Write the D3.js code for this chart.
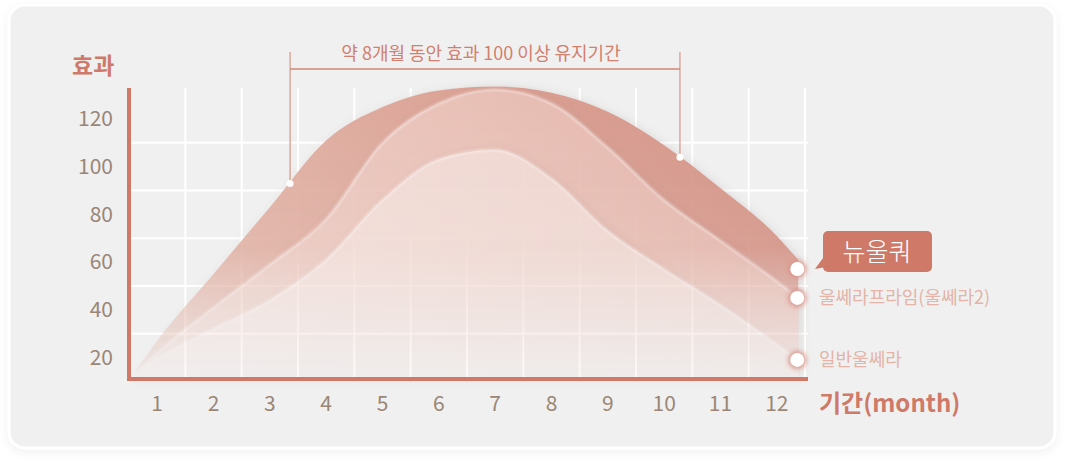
<!DOCTYPE html>
<meta charset="utf-8">
<style>
body { margin: 0; background: #fff; }
svg { display: block; font-family: "Noto Sans CJK KR", "Noto Sans", sans-serif; }
.tick-label { fill: #9a8676; font-size: 21px; }
.title { fill: #cf7a68; font-weight: 700; }
</style>
<svg width="1065" height="469"></svg>
<script src="https://cdn.jsdelivr.net/npm/d3@7"></script>
<script>

// months where the curves were read, values for each product
var months = [0.55, 1, 2, 3, 4, 5, 6, 7, 8, 9, 10, 11, 12, 12.38];
var newUlthera = [12, 27, 55, 83, 111, 125, 132, 133.6, 131, 123, 109, 91, 71, 61];
var ultheraPrime = [12, 22, 41, 59, 78, 110, 126.5, 132.4, 126.5, 108, 86, 69, 52, 45];
var ultheraBasic = [12, 19.5, 32, 44, 61, 86, 103, 107, 95, 73, 57, 42, 25.5, 19];

var xTicks = [1, 2, 3, 4, 5, 6, 7, 8, 9, 10, 11, 12];
var yTicks = [20, 40, 60, 80, 100, 120];
var gridY = [30, 50, 70, 90, 110];
var seriesNames = ["뉴울쿼", "울쎄라프라임(울쎄라2)", "일반울쎄라"];
// points on the top curve where effect crosses ~100
var bracketMonths = [3.36, 10.28];
var bracketValues = [93, 104];

var svg = d3.select("svg");
var defs = svg.append("defs");

var x = d3.scaleLinear().domain([0.5, 12.5]).range([129, 805]);
var y = d3.scaleLinear().domain([11, 133]).range([379, 88]);

// card
var shadow = defs.append("filter").attr("id", "cardShadow")
  .attr("x", "-5%").attr("y", "-5%").attr("width", "110%").attr("height", "115%");
shadow.append("feDropShadow").attr("dx", 0).attr("dy", 3).attr("stdDeviation", 4)
  .attr("flood-color", "#000").attr("flood-opacity", 0.06);

svg.append("rect")
  .attr("x", 9).attr("y", 5).attr("width", 1046).attr("height", 443).attr("rx", 16)
  .attr("fill", "#f0f0f0").attr("stroke", "#fff").attr("stroke-width", 3)
  .attr("filter", "url(#cardShadow)");

// grid
var grid = svg.append("g").attr("stroke", "#fff").attr("stroke-width", 2);
grid.selectAll(".gx").data(xTicks).enter().append("line")
  .attr("x1", function(d) { return x(d + 0.5); })
  .attr("x2", function(d) { return x(d + 0.5); })
  .attr("y1", y(133)).attr("y2", y(11));
grid.selectAll(".gy").data(gridY).enter().append("line")
  .attr("x1", x(0.5)).attr("x2", 808)
  .attr("y1", function(d) { return y(d); })
  .attr("y2", function(d) { return y(d); });

// gradients & masks
var fade = defs.append("linearGradient").attr("id", "fade")
  .attr("gradientUnits", "userSpaceOnUse")
  .attr("x1", 0).attr("x2", 0).attr("y1", y(133)).attr("y2", y(11));
fade.append("stop").attr("offset", 0).attr("stop-color", "#fff");
fade.append("stop").attr("offset", 0.55).attr("stop-color", "#ddd");
fade.append("stop").attr("offset", 1).attr("stop-color", "#222");
defs.append("mask").attr("id", "fadeMask")
  .attr("maskUnits", "userSpaceOnUse")
  .attr("x", 0).attr("y", 0).attr("width", 1065).attr("height", 469)
  .append("rect").attr("width", 1065).attr("height", 469).attr("fill", "url(#fade)");

var colors = [
  ["#e3b6a9", "#d38f82"],
  ["#edcdc4", "#e3b2a7"],
  ["#f4dfd9", "#edd1ca"]
];
colors.forEach(function(c, i) {
  var g = defs.append("linearGradient").attr("id", "fill" + i)
    .attr("gradientUnits", "userSpaceOnUse")
    .attr("x1", x(0.5)).attr("x2", x(12.5)).attr("y1", 0).attr("y2", 0);
  g.append("stop").attr("offset", 0).attr("stop-color", c[0]);
  g.append("stop").attr("offset", 1).attr("stop-color", c[1]);
});

var areaShadow = defs.append("filter").attr("id", "areaShadow")
  .attr("x", "-10%").attr("y", "-10%").attr("width", "120%").attr("height", "120%");
areaShadow.append("feDropShadow").attr("dx", 3).attr("dy", 2).attr("stdDeviation", 4)
  .attr("flood-color", "#6b5a55").attr("flood-opacity", 0.18);

var soft = defs.append("filter").attr("id", "soft");
soft.append("feGaussianBlur").attr("stdDeviation", 1.2);

var glow = defs.append("filter").attr("id", "glow")
  .attr("x", "-100%").attr("y", "-100%").attr("width", "300%").attr("height", "300%");
glow.append("feGaussianBlur").attr("stdDeviation", 2.5);

var area = d3.area()
  .x(function(d, i) { return x(months[i]); })
  .y0(y(11))
  .y1(function(d) { return y(d); })
  .curve(d3.curveMonotoneX);

var line = d3.line()
  .x(function(d, i) { return x(months[i]); })
  .y(function(d) { return y(d); })
  .curve(d3.curveMonotoneX);

var series = [newUlthera, ultheraPrime, ultheraBasic];
var areas = svg.append("g").attr("mask", "url(#fadeMask)");
series.forEach(function(s, i) {
  var g = areas.append("g").attr("filter", "url(#areaShadow)");
  g.append("path").datum(s)
    .attr("d", area)
    .attr("fill", "url(#fill" + i + ")");
  if (i > 0) {
    g.append("path").datum(s)
      .attr("d", line)
      .attr("fill", "none")
      .attr("stroke", "#fff")
      .attr("stroke-opacity", 0.5)
      .attr("stroke-width", 2)
      .attr("filter", "url(#soft)");
  }
});

// axes
svg.append("line")
  .attr("x1", x(0.5)).attr("x2", x(0.5))
  .attr("y1", y(133)).attr("y2", y(11) + 2)
  .attr("stroke", "#cf7a68").attr("stroke-width", 4);
svg.append("line")
  .attr("x1", x(0.5) - 2).attr("x2", 808)
  .attr("y1", y(11)).attr("y2", y(11))
  .attr("stroke", "#cf7a68").attr("stroke-width", 4);

svg.selectAll(".ylab").data(yTicks).enter().append("text")
  .attr("class", "tick-label")
  .attr("x", 113).attr("y", function(d) { return y(d); })
  .attr("dy", "0.35em").attr("text-anchor", "end")
  .text(function(d) { return d; });

svg.selectAll(".xlab").data(xTicks).enter().append("text")
  .attr("class", "tick-label")
  .attr("x", function(d) { return x(d); }).attr("y", 404)
  .attr("dy", "0.35em").attr("text-anchor", "middle")
  .text(function(d) { return d; });

svg.append("text").attr("class", "title")
  .attr("x", 72).attr("y", 66).attr("dy", "0.35em")
  .style("font-size", "23px").text("효과");
svg.append("text").attr("class", "title")
  .attr("x", 819).attr("y", 404).attr("dy", "0.35em")
  .style("font-size", "24px").text("기간(month)");

// bracket
var bx = bracketMonths.map(x);
var bracket = svg.append("g");
bracket.append("path")
  .attr("d", "M" + bx[0] + "," + y(bracketValues[0]) + "V52M" + bx[1] + "," + y(bracketValues[1]) + "V52")
  .attr("fill", "none").attr("stroke", "#dca89c").attr("stroke-width", 1.5);
bracket.append("line")
  .attr("x1", bx[0]).attr("x2", bx[1]).attr("y1", 69).attr("y2", 69)
  .attr("stroke", "#d28676").attr("stroke-width", 1.3);
bracket.selectAll("circle").data(bracketMonths).enter().append("circle")
  .attr("cx", function(d) { return x(d); })
  .attr("cy", function(d, i) { return y(bracketValues[i]); })
  .attr("r", 3.5).attr("fill", "#fff");
bracket.append("text")
  .attr("x", (bx[0] + bx[1]) / 2 - 4).attr("y", 54).attr("dy", "0.35em")
  .attr("text-anchor", "middle")
  .style("font-size", "18px").style("fill", "#d0806e")
  .text("약 8개월 동안 효과 100 이상 유지기간");

// end dots
var last = months.length - 1;
var dotY = [269, y(ultheraPrime[last]), y(ultheraBasic[last])];
var dots = svg.append("g");
series.forEach(function(s, i) {
  var cx = x(months[last]) - 1, cy = dotY[i];
  dots.append("circle").attr("cx", cx).attr("cy", cy).attr("r", 9)
    .attr("fill", "#d9958a").attr("filter", "url(#glow)");
  dots.append("circle").attr("cx", cx).attr("cy", cy).attr("r", 7)
    .attr("fill", "#fff");
});

// legend labels
var lx = 823, ly0 = dotY[0] - 38;
svg.append("path")
  .attr("d", "M" + lx + "," + (ly0 + 27) + "L815," + (ly0 + 38) + "L" + (lx + 9) + "," + (ly0 + 35) + "Z")
  .attr("fill", "#cf7a68");
svg.append("rect")
  .attr("x", lx).attr("y", ly0).attr("width", 109).attr("height", 41).attr("rx", 5)
  .attr("fill", "#cf7a68");
svg.append("text")
  .attr("x", lx + 54).attr("y", ly0 + 21).attr("dy", "0.35em")
  .attr("text-anchor", "middle")
  .style("font-size", "25px").style("fill", "#fff").style("font-weight", 300)
  .text(seriesNames[0]);
[1, 2].forEach(function(i) {
  svg.append("text")
    .attr("x", 819).attr("y", dotY[i]).attr("dy", "0.35em")
    .style("font-size", "18px").style("fill", "#e3b4a7")
    .text(seriesNames[i]);
});

</script>
